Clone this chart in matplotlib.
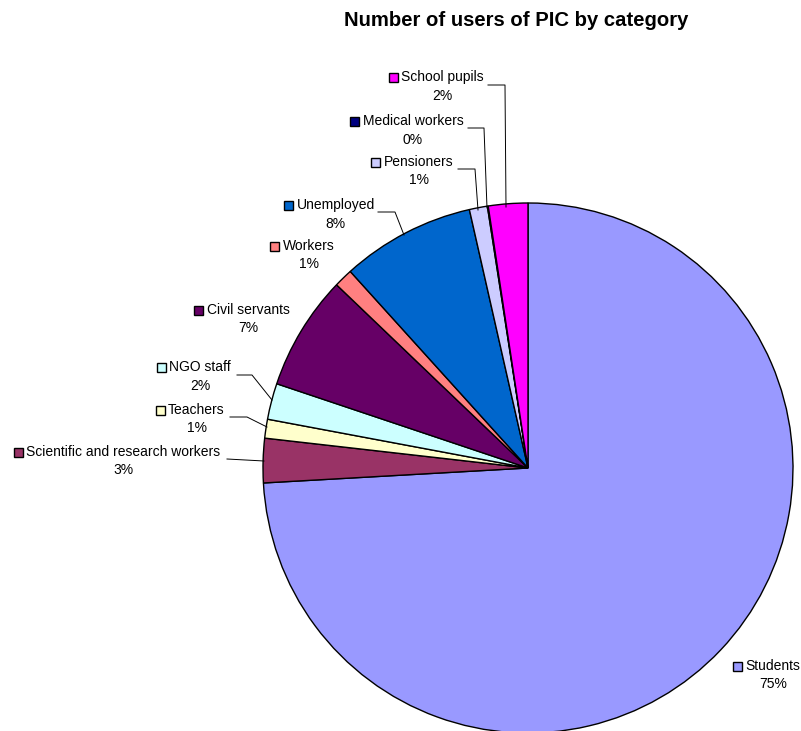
import matplotlib.pyplot as plt
from matplotlib.patches import Rectangle

plt.rcParams['font.family'] = ['Liberation Sans', 'DejaVu Sans']

# Data (clockwise from 12 o'clock)
categories = ['Students', 'Scientific and research workers', 'Teachers', 'NGO staff',
              'Civil servants', 'Workers', 'Unemployed', 'Pensioners',
              'Medical workers', 'School pupils']
shares = [74.1, 2.7, 1.15, 2.2, 7.0, 1.15, 8.15, 1.1, 0.05, 2.4]
pct_labels = ['75%', '3%', '1%', '2%', '7%', '1%', '8%', '1%', '0%', '2%']
colors = ['#9999FF', '#993366', '#FFFFCC', '#CCFFFF', '#660066', '#FF8080',
          '#0066CC', '#CCCCFF', '#000080', '#FF00FF']
title = 'Number of users of PIC by category'

W, H = 801, 731
fig = plt.figure(figsize=(W / 100, H / 100), dpi=100)
ax = fig.add_axes([0, 0, 1, 1])

# pie in pixel coordinates (y measured from bottom)
cx, cy, r = 528, H - 468, 265
ax.pie(shares, colors=colors, startangle=90, counterclock=False,
       center=(cx, cy), radius=r, frame=True,
       wedgeprops=dict(edgecolor='black', linewidth=1.0))
ax.set_xlim(0, W)
ax.set_ylim(0, H)
ax.set_aspect('equal')
ax.set_axis_off()

# label: (name centre x, name line y) in image pixels, plus leader polyline
label_pos = {
    'Students': (773, 666, None),
    'Scientific and research workers': (123.5, 452, [(227, 459), (264, 461)]),
    'Teachers': (196.5, 410, [(230, 417), (247, 417), (267, 427)]),
    'NGO staff': (200, 367, [(237, 375), (252, 375), (272, 400)]),
    'Civil servants': (248, 310, None),
    'Workers': (308.5, 246, None),
    'Unemployed': (335.5, 205, [(378, 212), (395, 212), (404, 235)]),
    'Pensioners': (418.5, 162, [(458, 169), (475, 169), (478, 210)]),
    'Medical workers': (413, 121, [(468, 128), (484, 128), (487, 208)]),
    'School pupils': (442.5, 77, [(488, 85), (505, 85), (506, 207)]),
}

fs = 10
fig.canvas.draw()
renderer = fig.canvas.get_renderer()
for name, col, pct in zip(categories, colors, pct_labels):
    x, y, leader = label_pos[name]
    t = ax.text(x, H - y, name, ha='center', va='center', fontsize=fs)
    ax.text(x, H - y - 18.5, pct, ha='center', va='center', fontsize=fs)
    # legend key square left of the name
    bb = t.get_window_extent(renderer=renderer)
    ax.add_patch(Rectangle((bb.x0 - 12.5, H - y - 4.5), 9, 9, facecolor=col,
                           edgecolor='black', linewidth=1.0, clip_on=False))
    if leader:
        xs = [p[0] for p in leader]
        ys = [H - p[1] for p in leader]
        ax.plot(xs, ys, color='black', linewidth=0.7)

ax.text(516.5, H - 20.5, title, ha='center', va='center', fontsize=14.6, fontweight='bold')

fig.savefig('out.png', dpi=100)
